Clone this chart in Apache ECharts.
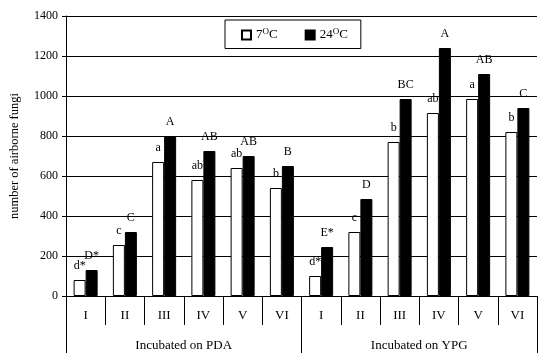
<!DOCTYPE html>
<html><head><meta charset="utf-8">
<script src="https://cdn.jsdelivr.net/npm/echarts@6/dist/echarts.min.js"></script>
<style>html,body{margin:0;padding:0;background:#fff}#c{width:550px;height:363px}</style>
</head><body><div id="c"></div>
<script>
const categories = ['I','II','III','IV','V','VI','I','II','III','IV','V','VI'];
const groups = ['Incubated on PDA','Incubated on YPG'];
const yTicks = [0,200,400,600,800,1000,1200,1400];
const values7 = [80,255,670,580,640,540,100,320,770,915,985,820];
const values24 = [130,320,800,725,700,650,245,485,985,1240,1110,940];
const letters7 = ['d*','c','a','ab','ab','b','d*','c','b','ab','a','b'];
const letters24 = ['D*','C','A','AB','AB','B','E*','D','BC','A','AB','C'];

const FONT = 'Liberation Serif';
const chart = echarts.init(document.getElementById('c'), null, {renderer:'canvas'});
chart.setOption({
  animation:false,
  textStyle:{fontFamily:FONT,color:'#000'},
  grid:{left:65,right:13,top:16,bottom:67},
  legend:{
    left:225, top:20, width:134,
    padding:[7,13,7,16], borderColor:'#000', borderWidth:1,
    itemWidth:9, itemHeight:9, itemGap:27, icon:'rect',
    data:['7','24'],
    formatter:n=>'{a|'+n+'}{sup|O}{a|C}',
    textStyle:{fontFamily:FONT,color:'#000',fontSize:12,
      rich:{a:{fontFamily:FONT,fontSize:13,color:'#000'},sup:{fontFamily:FONT,fontSize:9,color:'#000',padding:[0,0,7,0]}}}
  },
  xAxis:[{
    type:'category', data:categories, position:'bottom',
    axisLine:{lineStyle:{color:'#000',width:1}},
    axisTick:{show:true,interval:0,length:29,lineStyle:{color:'#000'}},
    axisLabel:{interval:0,margin:13,fontFamily:FONT,fontSize:13,color:'#000'}
  },{
    type:'category', data:groups, position:'bottom',
    axisLine:{show:false},
    axisTick:{show:true,interval:0,length:57,lineStyle:{color:'#000'}},
    axisLabel:{interval:0,margin:43,fontFamily:FONT,fontSize:13,color:'#000'}
  }],
  yAxis:{
    type:'value', min:0, max:1400, interval:200,
    name:'number of airborne fungi', nameLocation:'middle', nameGap:45,
    nameTextStyle:{fontFamily:FONT,fontSize:12.5,color:'#000'},
    axisLine:{show:true,lineStyle:{color:'#000'}},
    axisTick:{show:true,length:4,lineStyle:{color:'#000'}},
    axisLabel:{margin:8,fontFamily:FONT,fontSize:12,color:'#000',formatter:v=>yTicks.includes(v)?String(v):''},
    splitLine:{lineStyle:{color:'#000',width:1}}
  },
  series:[{
    name:'7', type:'bar', xAxisIndex:0, data:values7, barWidth:12, barGap:'0%',
    itemStyle:{color:'#fff',borderColor:'#000',borderWidth:1},
    label:{show:true,position:'top',distance:8,fontFamily:FONT,fontSize:12,color:'#000',
      formatter:p=>letters7[p.dataIndex]}
  },{
    name:'24', type:'bar', xAxisIndex:0, data:values24, barWidth:12, barGap:'0%',
    itemStyle:{color:'#000',borderColor:'#000',borderWidth:1},
    label:{show:true,position:'top',distance:8,fontFamily:FONT,fontSize:12,color:'#000',
      formatter:p=>letters24[p.dataIndex]}
  }]
});
</script></body></html>
